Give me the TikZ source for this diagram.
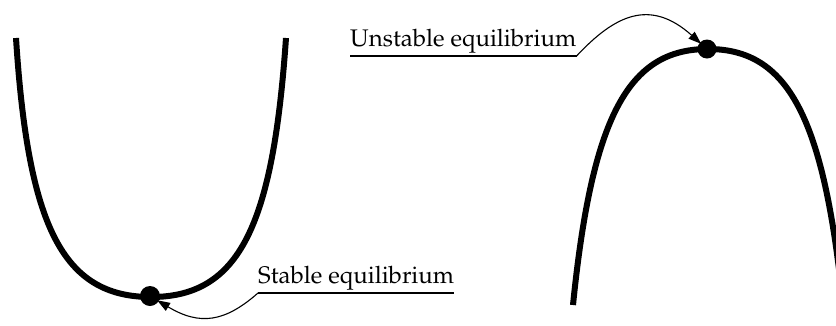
\documentclass[tikz,border=0pt]{standalone}
\usepackage[T1]{fontenc}
\usepackage{mathpazo}
\usetikzlibrary{arrows.meta}
\tikzset{
  curve/.style={line width=6pt},
  eqdot/.style={circle, fill=black, inner sep=0pt, minimum size=20pt},
  eqlabel/.style={inner xsep=0pt, inner ysep=2.5pt, font=\fontsize{24}{28}\selectfont},
  uline/.style={line width=1.6pt},
  conn/.style={line width=1.1pt, -{Triangle[length=13pt,width=9pt]}, shorten >=-2pt}
}
\begin{document}
\begin{tikzpicture}[x=1pt,y=-1pt]
\useasboundingbox (0,0) rectangle (836,325);
\begin{scope}
\clip (0,0) rectangle (836,325);
% stable well
\draw[curve] (16,38) .. controls (28,225) and (62,297) .. (151,297)
  .. controls (240,297) and (273,225) .. (286,38);
% unstable hill
\draw[curve] (573,305) .. controls (592,117) and (628,49) .. (708,49)
  .. controls (788,49) and (824,117) .. (843,305);
\end{scope}
\node[eqdot] (sdot) at (150,296) {};
\node[eqdot, minimum size=19pt] (udot) at (707,49) {};
\node[eqlabel, anchor=south west] (slab) at (258,293) {Stable equilibrium};
\node[eqlabel, anchor=south west] (ulab) at (350,56) {Unstable equilibrium};
\draw[uline] (slab.south west) -- (slab.south east);
\draw[uline] (ulab.south west) -- (ulab.south east);
\draw[conn] (slab.south west) .. controls (225,322) and (200,326) .. (sdot);
\draw[conn] (ulab.south east) .. controls (615,15) and (650,-2) .. (udot);
\end{tikzpicture}
\end{document}
